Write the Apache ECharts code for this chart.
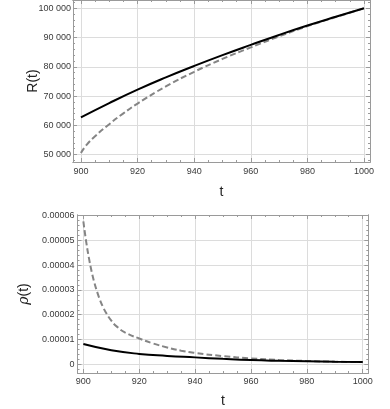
<!DOCTYPE html>
<html>
<head>
<meta charset="utf-8">
<script src="https://cdn.jsdelivr.net/npm/echarts@6/dist/echarts.min.js"></script>
<style>
  html, body { margin: 0; padding: 0; background: #fff; }
  #main { width: 390px; height: 409px; }
</style>
</head>
<body>
<div id="main"></div>
<script>
// top panel: R(t)
var tR = [900, 910, 920, 930, 940, 950, 960, 970, 980, 990, 1000];
var rSolid = [62700, 67600, 72200, 76400, 80300, 84000, 87500, 90900, 94100, 97100, 100000];
var tRDash = [900, 902, 905, 910, 915, 920, 930, 940, 950, 960, 970, 980, 990, 1000];
var rDash = [50550, 53300, 56300, 60400, 64100, 67450, 73300, 78300, 82700, 86650, 90400, 93900, 97000, 100000];

// bottom panel: rho(t)
var tRho = [900, 910, 920, 930, 940, 950, 960, 970, 980, 990, 1000];
var rhoSolid = [0.0000082, 0.0000057, 0.0000042, 0.0000034, 0.0000028, 0.0000022, 0.0000017, 0.0000014, 0.0000012, 0.0000010, 0.0000009];
var tRhoDash = [900, 901, 902, 903, 904, 905, 906, 907, 908, 910, 912, 915, 920, 925, 930, 935, 940, 950, 960, 970, 980, 990, 1000];
var rhoDash = [0.0000576, 0.0000495, 0.0000428, 0.0000372, 0.0000327, 0.000029, 0.0000258, 0.0000232, 0.000021, 0.0000176, 0.0000152, 0.0000128, 0.0000104, 0.0000084, 0.0000068, 0.0000055, 0.0000046, 0.0000033, 0.0000024, 0.00000175, 0.00000135, 0.00000105, 0.0000009];

// tick positions
var tMajor = [900, 920, 940, 960, 980, 1000];
var tMinor = [];
for (var i = 900; i <= 1000; i += 5) tMinor.push(i);
var rMajor = [50000, 60000, 70000, 80000, 90000, 100000];
var rMinor = [48000, 52000, 54000, 56000, 58000, 62000, 64000, 66000, 68000, 72000, 74000, 76000, 78000, 82000, 84000, 86000, 88000, 92000, 94000, 96000, 98000, 102000];
var rhoMajor = [0, 0.00001, 0.00002, 0.00003, 0.00004, 0.00005, 0.00006];
var rhoMinor = [-0.000002, 0.000002, 0.000004, 0.000006, 0.000008, 0.000012, 0.000014, 0.000016, 0.000018,
  0.000022, 0.000024, 0.000026, 0.000028, 0.000032, 0.000034, 0.000036, 0.000038,
  0.000042, 0.000044, 0.000046, 0.000048, 0.000052, 0.000054, 0.000056, 0.000058];

var frameColor = '#9a9a9a';
var font = 'Liberation Sans, Arial, sans-serif';

function zip(xs, ys) {
  return xs.map(function (x, i) { return [x, ys[i]]; });
}

function spaced(v) {
  return Math.round(v).toString().replace(/\B(?=(\d{3})+(?!\d))/g, ' ');
}

// builds the four frame axes (main, main minor, opposite, opposite minor) for one side pair
function frameAxes(grid, dim, min, max, major, minor, fmt, name, nameGap, labelMargin) {
  var main = dim === 'x' ? 'bottom' : 'left';
  var opp = dim === 'x' ? 'top' : 'right';
  function base(pos, ticks, len, withLabels) {
    return {
      type: 'value', gridIndex: grid, position: pos, min: min, max: max,
      axisLine: { show: true, onZero: false, lineStyle: { color: frameColor, width: 1 } },
      axisTick: { show: true, inside: true, length: len, customValues: ticks, lineStyle: { color: frameColor } },
      axisLabel: withLabels
        ? { show: true, customValues: major, formatter: fmt, margin: labelMargin, fontSize: 9, color: '#3a3a3a', fontFamily: font }
        : { show: false },
      splitLine: { show: false },
      minorTick: { show: false }
    };
  }
  var a = base(main, major, 4, true);
  a.splitLine = { show: true, lineStyle: { color: '#dcdcdc', width: 1 } };
  a.name = name;
  a.nameLocation = 'middle';
  a.nameGap = nameGap;
  a.nameMoveOverlap = false;
  a.nameTextStyle = {
    fontSize: 14, color: '#222', fontFamily: font,
    rich: { i: { fontSize: 14, fontStyle: 'italic', color: '#222', fontFamily: 'DejaVu Serif, serif' } }
  };
  return [a, base(main, minor, 2, false), base(opp, major, 4, false), base(opp, minor, 2, false)];
}

var myChart = echarts.init(document.getElementById('main'));
var option = {
  animation: false,
  backgroundColor: '#fff',
  grid: [
    { left: 73, top: 0, width: 297, height: 162 },
    { left: 77.5, top: 215, width: 290.8, height: 159 }
  ],
  xAxis: [].concat(
    frameAxes(0, 'x', 897.2, 1002.1, tMajor, tMinor, function (v) { return String(v); }, 't', 23, 5),
    frameAxes(1, 'x', 897.9, 1002, tMajor, tMinor, function (v) { return String(v); }, 't', 21, 4)
  ),
  yAxis: [].concat(
    frameAxes(0, 'y', 47470, 102840, rMajor, rMinor, spaced, 'R(t)', 33, 2),
    frameAxes(1, 'y', -0.0000035, 0.0000602, rhoMajor, rhoMinor, function (v) {
      return Math.abs(v) < 1e-12 ? '0' : v.toFixed(5);
    }, '{i|ρ}(t)', 46, 3)
  ),
  series: [
    {
      name: 'R dashed', type: 'line', xAxisIndex: 0, yAxisIndex: 0,
      data: zip(tRDash, rDash), smooth: true, showSymbol: false,
      lineStyle: { color: '#858585', width: 2, type: [6, 3] }
    },
    {
      name: 'R solid', type: 'line', xAxisIndex: 0, yAxisIndex: 0,
      data: zip(tR, rSolid), smooth: true, showSymbol: false,
      lineStyle: { color: '#000', width: 2 }
    },
    {
      name: 'rho dashed', type: 'line', xAxisIndex: 4, yAxisIndex: 4,
      data: zip(tRhoDash, rhoDash), smooth: true, showSymbol: false,
      lineStyle: { color: '#858585', width: 2, type: [6, 3] }
    },
    {
      name: 'rho solid', type: 'line', xAxisIndex: 4, yAxisIndex: 4,
      data: zip(tRho, rhoSolid), smooth: true, showSymbol: false,
      lineStyle: { color: '#000', width: 2 }
    }
  ]
};
myChart.setOption(option);
</script>
</body>
</html>
